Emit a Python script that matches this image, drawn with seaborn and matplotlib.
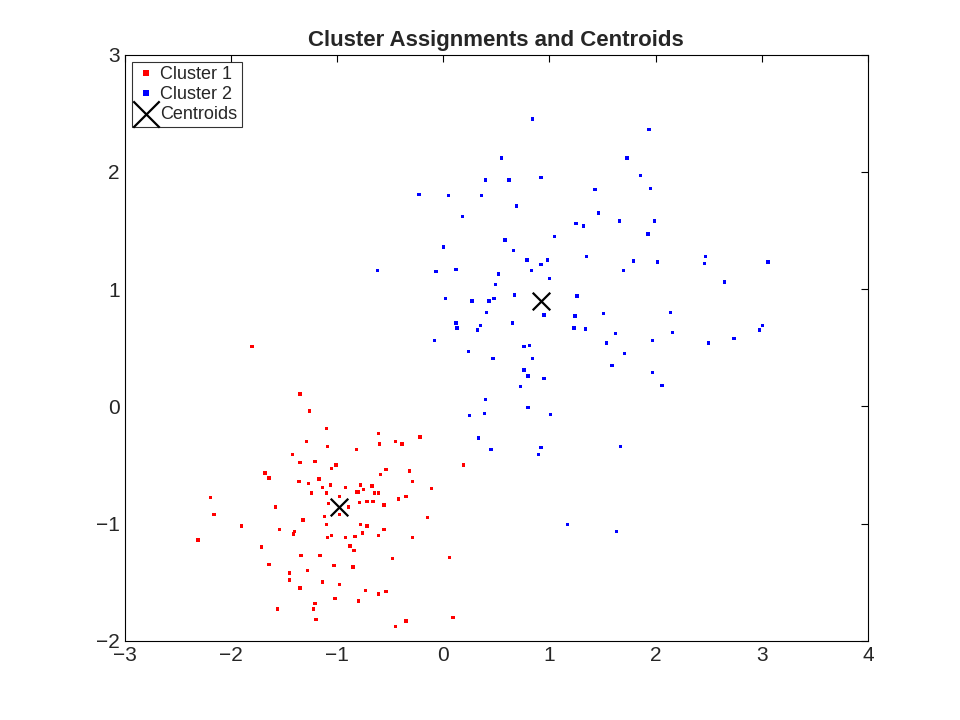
import numpy as np
import pandas as pd
import matplotlib
matplotlib.use("Agg")
import matplotlib.pyplot as plt
import seaborn as sns

c1_x = [-1.80, -1.35, -1.26, -1.10, -1.29, -1.09, -0.61, -0.60, -0.45, -0.39, -0.22, -0.82,
        -1.42, -1.35, -1.21, -1.01, -1.05, -1.68, -1.64, -1.36, -1.17, -1.27, -1.14, -1.06,
        -0.92, -0.78, -0.67, -0.75, -0.82, -0.80, -1.24, -1.10, -0.98, -0.65, -0.61, -0.54,
        -0.59, -0.32, -0.29, -0.11, 0.19, -0.35, -0.42, -2.19, -2.16, -1.58, -1.08, -0.89,
        -0.79, -0.72, -0.66, -0.56, -0.98, -1.12, -0.15, -1.90, -1.32, -1.10, -0.78, -0.72,
        -0.56, -1.54, -1.40, -1.41, -0.76, -0.61, -1.05, -1.09, -0.92, -0.83, -0.29, -2.31,
        -1.71, -0.88, -0.84, -1.34, -1.16, -0.48, 0.06, -1.64, -1.03, -0.85, -1.45, -1.28,
        -1.45, -1.14, -0.98, -1.35, -0.73, -0.61, -0.54, -1.02, -0.80, -1.21, -1.56, -1.22,
        -1.20, 0.09, -0.35, -0.45]
c1_y = [0.51, 0.105, -0.04, -0.19, -0.30, -0.34, -0.23, -0.32, -0.30, -0.32, -0.26, -0.37,
        -0.41, -0.48, -0.47, -0.50, -0.53, -0.57, -0.61, -0.64, -0.62, -0.66, -0.69, -0.67,
        -0.69, -0.67, -0.68, -0.71, -0.73, -0.73, -0.74, -0.74, -0.77, -0.74, -0.74, -0.54,
        -0.58, -0.55, -0.64, -0.70, -0.50, -0.77, -0.79, -0.78, -0.92, -0.86, -0.83, -0.86,
        -0.82, -0.81, -0.81, -0.84, -0.92, -0.94, -0.95, -1.02, -0.97, -1.01, -1.01, -1.02,
        -1.05, -1.05, -1.07, -1.09, -1.08, -1.10, -1.10, -1.12, -1.12, -1.11, -1.12, -1.14,
        -1.20, -1.19, -1.23, -1.27, -1.27, -1.30, -1.29, -1.35, -1.36, -1.37, -1.42, -1.40,
        -1.48, -1.50, -1.52, -1.55, -1.57, -1.60, -1.58, -1.64, -1.66, -1.68, -1.73, -1.73,
        -1.82, -1.80, -1.83, -1.88]

c2_x = [0.84, 1.94, 0.55, 1.73, 1.86, 1.95, 0.40, 0.62, 0.92, 1.43, -0.23, 0.05, 0.36, 0.69,
        0.18, 1.46, 1.66, 1.99, 1.25, 1.32, 1.93, 1.05, 0.58, 0.00, 0.66, 0.79, 0.98, 1.35,
        0.92, 0.83, 1.79, 2.02, 1.70, 2.47, 2.46, 3.06, -0.07, 0.12, 0.52, 1.00, 2.65, 0.49,
        0.02, 0.27, 0.43, 0.48, 0.67, 1.26, 0.41, 0.95, 1.24, 1.51, 2.14, 0.12, 0.13, 0.35,
        0.32, 0.65, 1.23, 1.34, 1.62, 2.16, 3.01, 2.98, -0.08, 1.54, 1.97, 2.50, 2.74, 0.24,
        0.76, 0.81, 1.71, 0.47, 0.84, 1.59, 1.97, 0.76, 0.80, 2.06, 0.73, 0.95, 0.40, 0.80,
        0.25, 0.39, 1.01, 0.33, 0.45, 0.92, 0.90, 1.67, 1.17, 1.63, -0.62]
c2_y = [2.45, 2.36, 2.12, 2.12, 1.97, 1.86, 1.93, 1.93, 1.95, 1.85, 1.81, 1.80, 1.80, 1.71,
        1.62, 1.65, 1.58, 1.58, 1.56, 1.54, 1.47, 1.45, 1.42, 1.36, 1.33, 1.25, 1.25, 1.28,
        1.21, 1.16, 1.24, 1.23, 1.16, 1.28, 1.22, 1.23, 1.15, 1.17, 1.13, 1.09, 1.06, 1.04,
        0.92, 0.90, 0.90, 0.92, 0.95, 0.94, 0.80, 0.78, 0.77, 0.79, 0.80, 0.71, 0.67, 0.69,
        0.65, 0.71, 0.67, 0.66, 0.62, 0.63, 0.69, 0.65, 0.56, 0.54, 0.56, 0.54, 0.58, 0.47,
        0.51, 0.52, 0.45, 0.41, 0.41, 0.35, 0.29, 0.31, 0.26, 0.18, 0.17, 0.24, 0.06, -0.01,
        -0.08, -0.06, -0.07, -0.27, -0.37, -0.35, -0.41, -0.34, -1.01, -1.07, 1.16]

cent_x = [-0.98, 0.92]
cent_y = [-0.86, 0.90]

sns.set_style("white")
plt.rcParams['font.family'] = ['Liberation Sans', 'DejaVu Sans']

df = pd.DataFrame({
    'x': c1_x + c2_x,
    'y': c1_y + c2_y,
    'cluster': ['Cluster 1'] * len(c1_x) + ['Cluster 2'] * len(c2_x),
})

fig, ax = plt.subplots(figsize=(9.6, 7.2), dpi=100)
fig.subplots_adjust(left=0.13, right=0.904, bottom=0.11, top=0.924)
sns.scatterplot(data=df, x='x', y='y', hue='cluster', palette={'Cluster 1': 'red', 'Cluster 2': 'blue'},
                s=6, marker='s', linewidth=0, ax=ax)
ax.scatter(cent_x, cent_y, marker='x', s=160, c='black', linewidths=1.6, label='Centroids')

ax.set_xlim(-3, 4)
ax.set_ylim(-2, 3)
ax.set_xticks(range(-3, 5))
ax.set_yticks(range(-2, 4))
ax.set_xlabel('')
ax.set_ylabel('')
ax.tick_params(direction='in', labelsize=15, length=5, top=True, right=True, color='black')
for sp in ax.spines.values():
    sp.set_color('black')
    sp.set_linewidth(0.8)
ax.set_title('Cluster Assignments and Centroids', fontsize=16, fontweight='bold')

h, l = ax.get_legend_handles_labels()
leg = ax.legend(h, l, loc='upper left', fontsize=13, fancybox=False, edgecolor='black',
                borderaxespad=0.4, handletextpad=0.3, labelspacing=0.15, borderpad=0.25,
                handlelength=1.0, markerscale=1.5)
leg.get_frame().set_linewidth(0.8)

fig.savefig('out.png')
